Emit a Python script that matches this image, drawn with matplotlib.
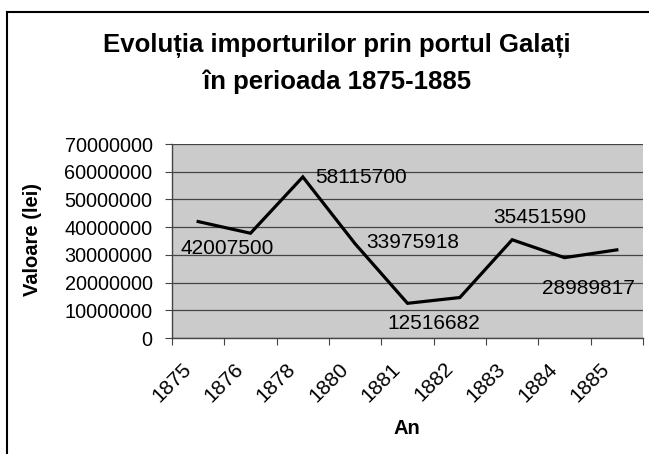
import matplotlib.pyplot as plt
from matplotlib.lines import Line2D
from matplotlib.transforms import ScaledTranslation

plt.rcParams['font.family'] = ['Liberation Sans', 'DejaVu Sans']

# date
ani = ['1875', '1876', '1878', '1880', '1881', '1882', '1883', '1884', '1885']
valori = [42007500, 37800000, 58115700, 33975918, 12516682, 14600000, 35451590, 28989817, 31800000]
etichete = ['42007500', None, '58115700', '33975918', '12516682', None, '35451590', '28989817', None]
y_ticks = [0, 10000000, 20000000, 30000000, 40000000, 50000000, 60000000, 70000000]

# decalaje etichete (pixeli)
decal = [(29, -27), None, (58, -1), (58, 1), (26, -20), None, (28, 22), (24, -31), None]

W, H = 649, 454
fig = plt.figure(figsize=(W/100, H/100), dpi=100)
ax = fig.add_axes([172/W, 1-338/H, (643-172)/W, (338-144)/H])

ax.set_facecolor('#cbcbcb')
x = list(range(len(ani)))
ax.plot(x, valori, color='black', lw=2.3, zorder=3, solid_joinstyle='miter')

for i in x:
    if etichete[i] is not None:
        ax.annotate(etichete[i], (i, valori[i]), xytext=decal[i], textcoords='offset pixels',
                    ha='center', va='center', fontsize=15, zorder=4)

ax.set_xlim(-0.5, len(ani)-0.5)
ax.set_ylim(0, 70000000)
ax.set_yticks(y_ticks)
ax.set_yticklabels([str(v) for v in y_ticks], fontsize=14.3)
ax.yaxis.grid(True, color='#444444', lw=0.9)
ax.set_axisbelow(True)

ax.set_xticks([i-0.5 for i in range(len(ani)+1)])
ax.set_xticklabels([])
ax.set_xticks(x, minor=True)
ax.set_xticklabels(ani, minor=True, fontsize=15, rotation=45, ha='right', va='center',
                   rotation_mode='anchor')
ax.tick_params(axis='x', which='minor', length=0, pad=20)
ax.tick_params(axis='x', which='major', length=5, color='#444444')
ax.tick_params(axis='y', length=5, color='#444444', pad=9)
for lab in ax.get_xticklabels(minor=True):
    lab.set_transform(lab.get_transform() + ScaledTranslation(-0.1, 0, fig.dpi_scale_trans))

for s in ['top', 'right']:
    ax.spines[s].set_visible(False)
for s in ['left', 'bottom']:
    ax.spines[s].set_color('#444444')
    ax.spines[s].set_linewidth(1)

fig.text(337/W, 1-45/H, 'Evoluția importurilor prin portul Galați', ha='center', va='center',
         fontsize=18.5, fontweight='bold')
fig.text(337/W, 1-82/H, 'în perioada 1875-1885', ha='center', va='center',
         fontsize=18.5, fontweight='bold')
fig.text(33/W, 1-240/H, 'Valoare (lei)', rotation=90, ha='center', va='center',
         fontsize=14.5, fontweight='bold')
fig.text(407/W, 1-428/H, 'An', ha='center', va='center', fontsize=14.5, fontweight='bold')

# chenarul graficului
fig.add_artist(Line2D([7/W, 7/W], [0, 1-12/H], color='black', lw=1.5))
fig.add_artist(Line2D([7/W, 1], [1-12/H, 1-12/H], color='black', lw=1.5))

fig.savefig('out.png', dpi=100)
